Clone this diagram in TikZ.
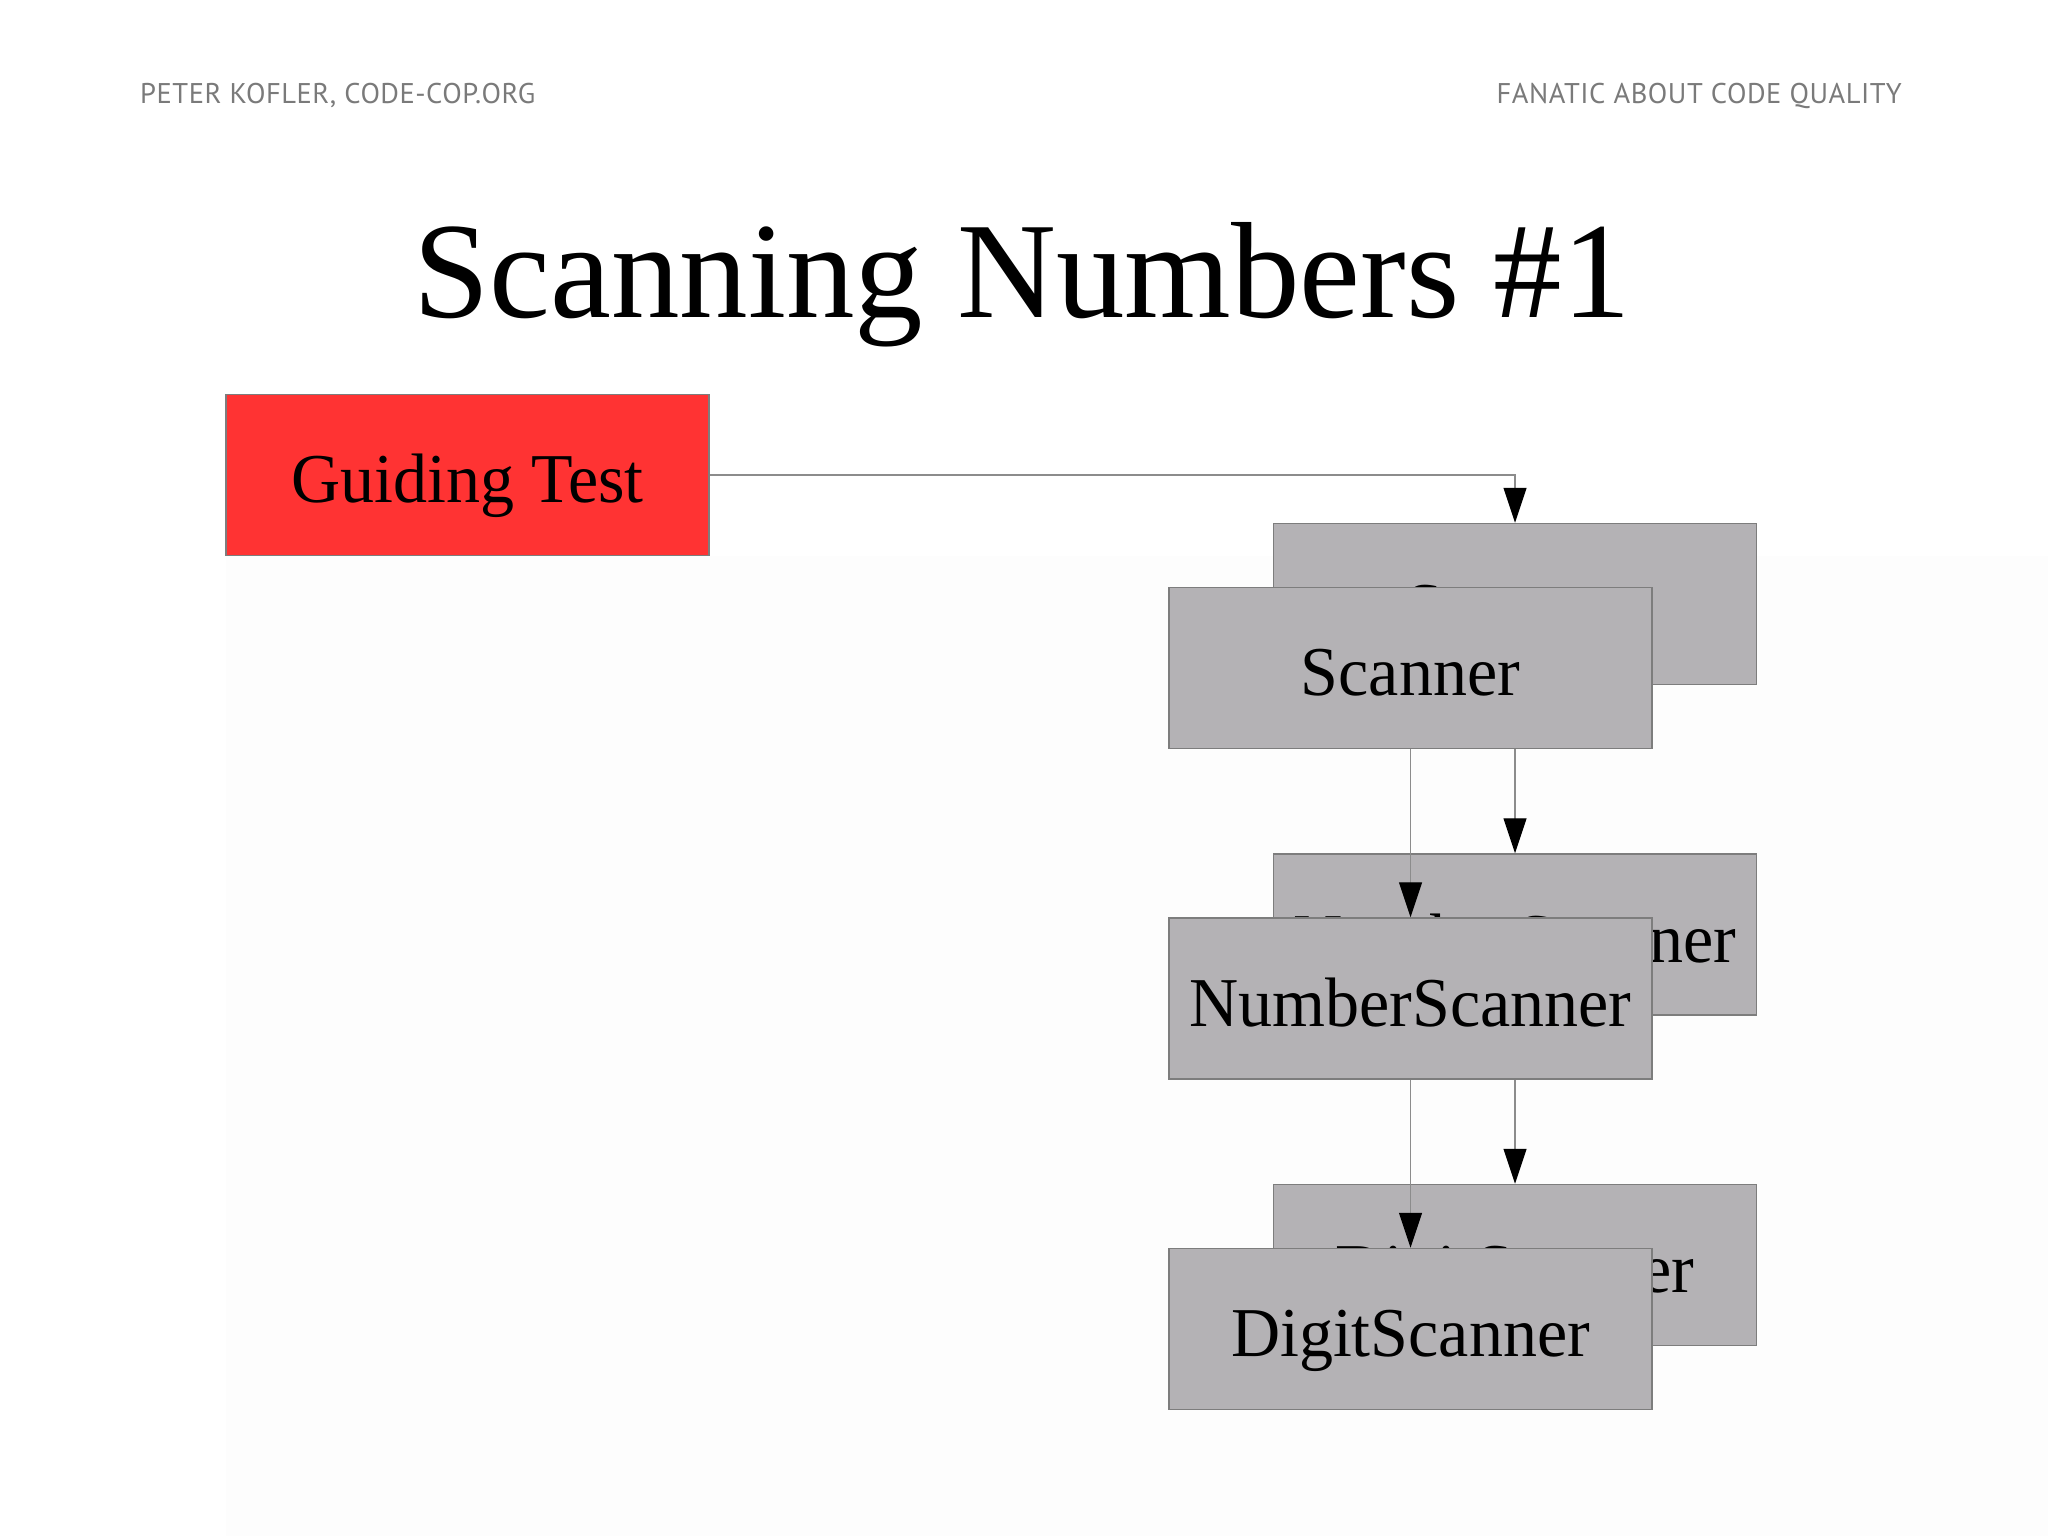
\documentclass[tikz,border=0pt]{standalone}
\usepackage{fontspec}
\setmainfont{Liberation Serif}
\newfontfamily\boxfont[FakeStretch=0.972]{Liberation Serif}
\newfontfamily\headfont[LetterSpace=1.8]{PT Sans}
\usetikzlibrary{arrows.meta}
\definecolor{boxgray}{RGB}{180,178,181}
\definecolor{boxline}{RGB}{125,125,125}
\definecolor{wire}{RGB}{140,140,140}
\definecolor{testred}{RGB}{255,51,51}
\definecolor{headgray}{RGB}{122,122,122}
\definecolor{paper}{RGB}{253,253,253}
\begin{document}
\begin{tikzpicture}[x=1pt,y=-1pt,
  classbox/.style={draw=boxline, line width=1.5pt, fill=boxgray,
    minimum width=483pt, minimum height=161pt, inner sep=0pt,
    text height=55pt, text depth=0pt, font=\boxfont\fontsize{70}{80}\selectfont},
  testbox/.style={classbox, fill=testred},
  wireline/.style={draw=wire, line width=1.3pt,
    -{Triangle[length=35pt,width=23pt,color=black]}},
  hdr/.style={text=headgray, inner sep=0pt, font=\headfont\fontsize{28.5}{34}\selectfont},
  titletext/.style={inner sep=0pt, font=\fontsize{137}{160}\selectfont}]
\useasboundingbox (0,0) rectangle (2048,1536);
\fill[white] (0,0) rectangle (2048,1536);
\fill[paper] (226,556) rectangle (2048,1536);
\node[hdr, anchor=base west] (hl) at (140,104) {PETER KOFLER, CODE-COP.ORG};
\node[hdr, anchor=base east] (hr) at (1902,104) {FANATIC ABOUT CODE QUALITY};
\node[titletext, anchor=base] (title) at (1022,317) {Scanning Numbers \#1};
\node[testbox] (gt) at (467.5,475) {Guiding Test};
\node[classbox] (sb) at (1515,604) {Scanner};
\node[classbox] (nb) at (1515,934.5) {NumberScanner};
\node[classbox] (db) at (1515,1265) {DigitScanner};
\draw[wireline] (gt.east) -| (sb.north);
\draw[wireline] (sb.south) -- (nb.north);
\draw[wireline] (nb.south) -- (db.north);
\node[classbox] (sf) at (1410.5,668) {Scanner};
\node[classbox] (nf) at (1410.5,998.5) {NumberScanner};
\node[classbox] (df) at (1410.5,1329) {DigitScanner};
\draw[wireline] (sf.south) -- (nf.north);
\draw[wireline] (nf.south) -- (df.north);
\end{tikzpicture}
\end{document}
